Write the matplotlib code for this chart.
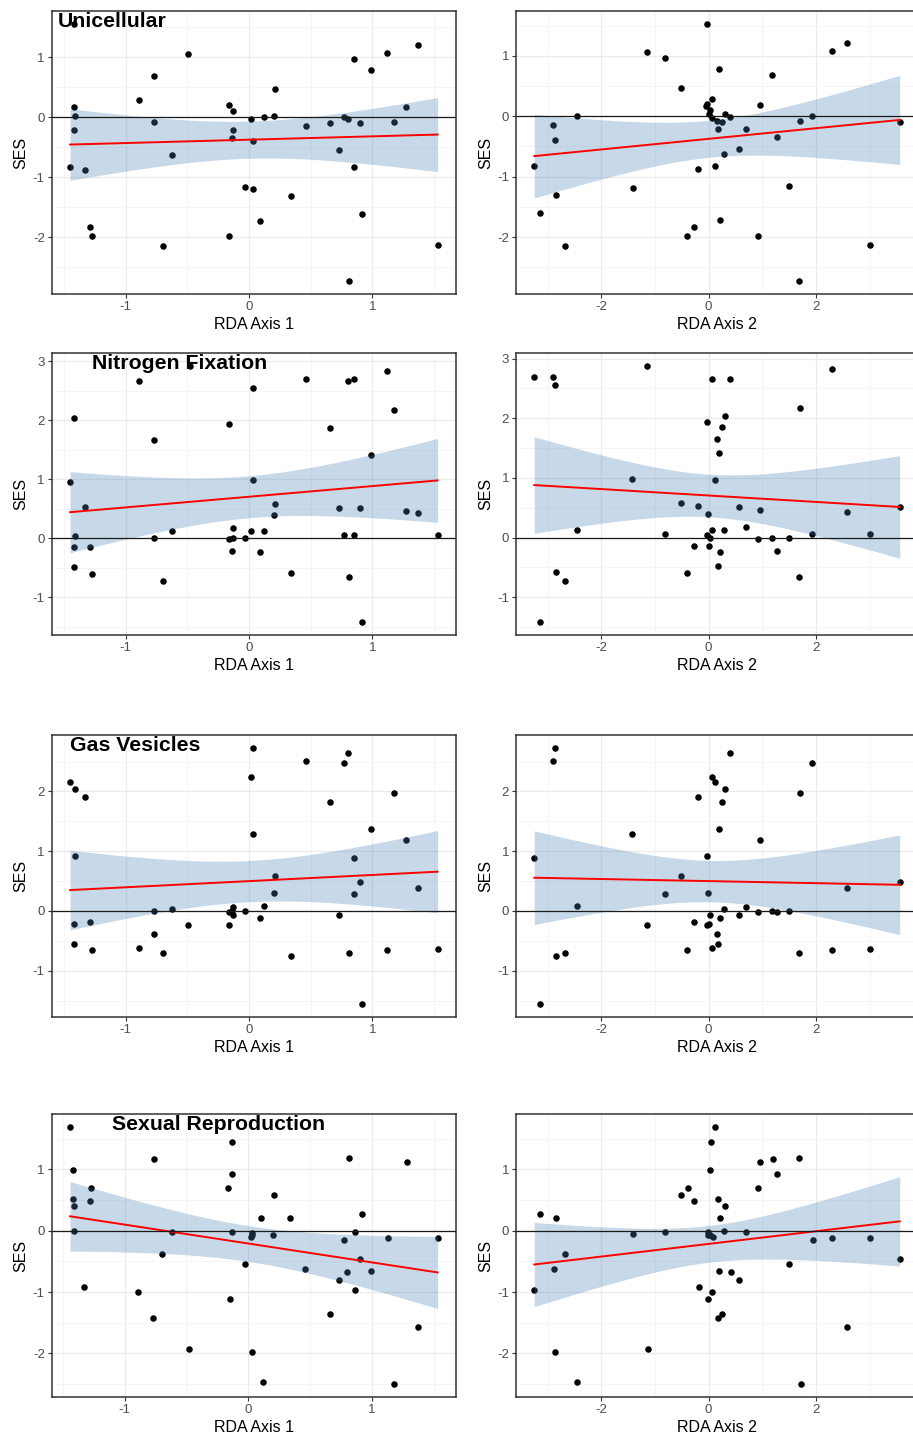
import matplotlib.pyplot as plt
import numpy as np
from matplotlib.ticker import MultipleLocator

plt.rcParams['font.family'] = ['Liberation Sans', 'DejaVu Sans']
plt.rcParams['axes.unicode_minus'] = False

# ---- data: (RDA axis score, SES) per panel ----
uni_ax1_x = [-1.42, -1.42, -1.41, -1.42, -1.45, -1.33, -1.29, -1.27, -0.89, -0.77,
             -0.77, -0.70, -0.62, -0.49, -0.16, -0.13, -0.13, -0.14, -0.16, -0.03,
             0.02, 0.03, 0.03, 0.09, 0.12, 0.20, 0.21, 0.34, 0.46, 0.66,
             0.73, 0.77, 0.80, 0.81, 0.85, 0.85, 0.90, 0.92, 0.99, 1.12,
             1.18, 1.27, 1.37, 1.53]
uni_ax1_y = [1.56, 0.17, 0.03, -0.21, -0.82, -0.87, -1.83, -1.98, 0.29, 0.69,
             -0.08, -2.14, -0.62, 1.06, 0.20, 0.10, -0.21, -0.34, -1.98, -1.16,
             -0.03, -0.40, -1.19, -1.72, 0.00, 0.03, 0.47, -1.31, -0.14, -0.10,
             -0.54, 0.00, -0.02, -2.73, 0.97, -0.82, -0.10, -1.61, 0.79, 1.08,
             -0.08, 0.18, 1.21, -2.13]

uni_ax2_x = [-0.03, -1.15, -0.82, 2.29, 2.57, 0.20, 1.18, -0.51, 0.06, -0.03,
             0.02, 0.00, 0.95, -2.46, -2.90, -2.87, -3.25, -2.84, -3.15, -2.68,
             -1.41, 0.07, 0.15, 0.24, 0.18, 0.30, 0.40, 0.69, 0.28, 0.56,
             1.27, 1.71, 1.93, 3.56, -0.19, 0.12, -0.27, -0.40, 0.22, 0.92,
             1.49, 3.00, 1.69, -0.05]
uni_ax2_y = [1.53, 1.06, 0.97, 1.08, 1.21, 0.79, 0.69, 0.47, 0.29, 0.20,
             0.10, 0.03, 0.18, 0.00, -0.14, -0.40, -0.82, -1.31, -1.61, -2.14,
             -1.19, -0.03, -0.08, -0.10, -0.21, 0.03, -0.01, -0.21, -0.62, -0.54,
             -0.34, -0.08, 0.00, -0.10, -0.87, -0.82, -1.83, -1.98, -1.72, -1.98,
             -1.16, -2.13, -2.73, 0.17]

nit_ax1_x = [-0.48, -0.89, -1.42, -0.77, -1.45, -1.33, -1.41, -1.42, -1.29, -1.42,
             -1.27, -0.77, -0.62, -0.70, -0.16, 0.03, 0.03, -0.13, -0.16, -0.13,
             -0.14, -0.03, 0.02, 0.09, 0.12, 0.20, 0.21, 0.34, 0.46, 0.66,
             0.73, 0.77, 0.80, 0.81, 0.85, 0.85, 0.90, 0.92, 0.99, 1.12,
             1.18, 1.27, 1.37, 1.53]
nit_ax1_y = [2.92, 2.67, 2.04, 1.66, 0.96, 0.53, 0.04, -0.14, -0.14, -0.48,
             -0.60, 0.00, 0.12, -0.73, 1.93, 2.55, 0.98, 0.17, -0.02, 0.00,
             -0.22, 0.00, 0.12, -0.24, 0.13, 0.39, 0.58, -0.58, 2.70, 1.86,
             0.51, 0.06, 2.66, -0.66, 2.70, 0.06, 0.51, -1.42, 1.41, 2.83,
             2.18, 0.47, 0.43, 0.06]

nit_ax2_x = [-3.25, -2.91, -2.86, -1.15, 0.06, 0.40, 2.29, 1.71, 0.30, -0.03,
             0.24, 0.16, 0.20, -1.42, 0.12, -0.51, -0.19, -0.01, 0.56, 0.95,
             2.57, 3.56, -2.46, -0.82, -0.03, 0.02, 0.07, 0.28, 0.69, 0.92,
             1.18, 1.49, 1.93, 3.00, -0.27, 0.01, 0.22, 1.27, 0.18, -0.40,
             -2.84, -2.68, 1.69, -3.15]
nit_ax2_y = [2.70, 2.70, 2.55, 2.88, 2.66, 2.66, 2.83, 2.18, 2.04, 1.93,
             1.86, 1.66, 1.41, 0.98, 0.96, 0.58, 0.53, 0.39, 0.51, 0.47,
             0.43, 0.51, 0.13, 0.06, 0.04, 0.00, 0.12, 0.12, 0.17, -0.02,
             0.00, 0.00, 0.06, 0.06, -0.14, -0.14, -0.24, -0.22, -0.48, -0.60,
             -0.58, -0.73, -0.66, -1.42]

gas_ax1_x = [-1.45, -1.41, -1.33, -1.41, -1.42, -1.29, -1.42, -1.27, -0.89, -0.77,
             -0.77, -0.70, -0.62, -0.49, -0.16, -0.16, -0.13, -0.13, -0.14, -0.03,
             0.03, 0.02, 0.03, 0.09, 0.12, 0.20, 0.21, 0.34, 0.46, 0.66,
             0.73, 0.77, 0.80, 0.81, 0.85, 0.85, 0.90, 0.92, 0.99, 1.12,
             1.18, 1.27, 1.37, 1.53]
gas_ax1_y = [2.16, 2.04, 1.91, 0.92, -0.21, -0.18, -0.56, -0.66, -0.62, -0.39,
             0.00, -0.70, 0.03, -0.24, -0.24, -0.02, 0.06, -0.06, 0.00, 0.00,
             2.73, 2.24, 1.29, -0.11, 0.08, 0.30, 0.58, -0.76, 2.51, 1.83,
             -0.06, 2.47, 2.64, -0.70, 0.88, 0.28, 0.48, -1.56, 1.37, -0.66,
             1.97, 1.19, 0.39, -0.63]

gas_ax2_x = [-2.86, -2.91, 0.40, 1.93, 0.07, 0.12, 0.30, -0.19, 0.24, 1.71,
             0.20, -1.42, 0.95, -3.25, -0.03, -0.51, -0.82, -0.01, 2.57, 3.56,
             -2.46, 0.28, 0.03, 0.69, 0.56, 0.92, 1.18, 1.27, 1.49, 0.22,
             -0.27, -0.03, 0.01, -1.15, 0.16, 0.18, 0.06, -0.40, -2.68, -2.84,
             1.69, 2.29, 3.00, -3.15]
gas_ax2_y = [2.73, 2.51, 2.64, 2.47, 2.24, 2.16, 2.04, 1.91, 1.83, 1.97,
             1.37, 1.29, 1.19, 0.88, 0.92, 0.58, 0.28, 0.30, 0.39, 0.48,
             0.08, 0.03, -0.06, 0.06, -0.06, -0.02, 0.00, -0.02, 0.00, -0.11,
             -0.18, -0.24, -0.21, -0.24, -0.39, -0.56, -0.62, -0.66, -0.70, -0.76,
             -0.70, -0.66, -0.63, -1.56]

sex_ax1_x = [-1.44, -1.42, -1.42, -1.41, -1.41, -1.27, -1.28, -1.33, -0.89, -0.76,
             -0.77, -0.70, -0.62, -0.48, -0.13, -0.13, -0.16, -0.13, -0.15, -0.03,
             0.03, 0.03, 0.02, 0.03, 0.10, 0.12, 0.21, 0.20, 0.34, 0.46,
             0.66, 0.73, 0.77, 0.80, 0.81, 0.86, 0.86, 0.90, 0.92, 0.99,
             1.13, 1.18, 1.28, 1.37, 1.53]
sex_ax1_y = [1.69, 0.98, 0.52, 0.40, 0.00, 0.69, 0.48, -0.92, -1.00, 1.16,
             -1.42, -0.38, -0.02, -1.93, 1.44, 0.93, 0.69, -0.02, -1.11, -0.54,
             -0.07, -0.04, -0.11, -1.98, 0.21, -2.46, 0.58, -0.07, 0.21, -0.62,
             -1.36, -0.81, -0.16, -0.67, 1.19, -0.96, -0.03, -0.47, 0.27, -0.65,
             -0.12, -2.50, 1.11, -1.57, -0.12]

sex_ax2_x = [0.12, 0.04, 0.02, 1.69, 1.19, 0.96, 1.27, 0.92, -0.39, -0.51,
             -0.27, 0.18, 0.30, 0.22, -3.14, -2.84, -1.41, -0.82, -0.02, -0.01,
             0.03, 0.08, 0.29, 0.69, 1.94, 2.29, 3.00, 3.56, -2.67, -2.89,
             -3.25, 1.49, 0.20, 0.41, 0.57, -0.18, 0.06, -0.02, 0.17, 0.25,
             -1.14, -2.86, -2.45, 1.72, 2.57]
sex_ax2_y = [1.69, 1.44, 0.98, 1.19, 1.16, 1.11, 0.93, 0.69, 0.69, 0.58,
             0.48, 0.52, 0.40, 0.21, 0.27, 0.21, -0.05, -0.03, -0.03, -0.07,
             -0.07, -0.11, 0.00, -0.02, -0.16, -0.12, -0.12, -0.47, -0.38, -0.62,
             -0.96, -0.54, -0.65, -0.67, -0.81, -0.92, -1.00, -1.11, -1.42, -1.36,
             -1.93, -1.98, -2.46, -2.50, -1.57]

titles = ['Unicellular', 'Nitrogen Fixation', 'Gas Vesicles', 'Sexual Reproduction']
title_x = [0.016, 0.099, 0.045, 0.148]
panels = [
    [(uni_ax1_x, uni_ax1_y), (uni_ax2_x, uni_ax2_y)],
    [(nit_ax1_x, nit_ax1_y), (nit_ax2_x, nit_ax2_y)],
    [(gas_ax1_x, gas_ax1_y), (gas_ax2_x, gas_ax2_y)],
    [(sex_ax1_x, sex_ax1_y), (sex_ax2_x, sex_ax2_y)],
]

# axes frames in pixels (top, bottom) per row, (left, right) per column
W, H = 913, 1443
row_px = [(11, 294), (353, 635), (735, 1017), (1114, 1397)]
col_px = [(51.7, 456), (516, 918)]

fig = plt.figure(figsize=(W / 100, H / 100), dpi=100)
fig.patch.set_facecolor('white')


def lm_band(x, y, xs):
    x = np.asarray(x)
    y = np.asarray(y)
    n = len(x)
    b, a = np.polyfit(x, y, 1)
    resid = y - (a + b * x)
    s = np.sqrt(np.sum(resid ** 2) / (n - 2))
    sxx = np.sum((x - x.mean()) ** 2)
    fit = a + b * xs
    se = s * np.sqrt(1 / n + (xs - x.mean()) ** 2 / sxx)
    return fit, fit - 2.018 * se, fit + 2.018 * se


for r, row in enumerate(panels):
    top, bot = row_px[r]
    for c, (x, y) in enumerate(row):
        left, right = col_px[c]
        ax = fig.add_axes([left / W, 1 - bot / H, (right - left) / W, (bot - top) / H])
        xs = np.linspace(min(x), max(x), 80)
        fit, lo, hi = lm_band(x, y, xs)

        ax.scatter(x, y, s=22, color='black', linewidths=0, zorder=2)
        ax.fill_between(xs, lo, hi, color='steelblue', alpha=0.3, linewidth=0, zorder=3)
        ax.plot(xs, fit, color='red', lw=1.4, zorder=4)
        ax.axhline(0, color='#1a1a1a', lw=0.9, zorder=5)

        # ggplot-like 5% expansion
        xr = max(x) - min(x)
        ax.set_xlim(min(x) - 0.05 * xr, max(x) + 0.05 * xr)
        ymin = min(min(y), lo.min())
        ymax = max(max(y), hi.max())
        yr = ymax - ymin
        ax.set_ylim(ymin - 0.05 * yr, ymax + 0.05 * yr)

        ax.xaxis.set_major_locator(MultipleLocator(1 if c == 0 else 2))
        ax.xaxis.set_minor_locator(MultipleLocator(0.5 if c == 0 else 1))
        ax.yaxis.set_major_locator(MultipleLocator(1))
        ax.yaxis.set_minor_locator(MultipleLocator(0.5))
        ax.grid(True, which='major', color='#EBEBEB', lw=0.9, zorder=0)
        ax.grid(True, which='minor', color='#F4F4F4', lw=0.6, zorder=0)
        ax.set_axisbelow(True)
        ax.tick_params(which='minor', length=0)
        ax.tick_params(which='major', length=3, width=0.8, color='#333333',
                       labelcolor='#4D4D4D', labelsize=9.5, pad=2)
        for sp in ax.spines.values():
            sp.set_color('#333333')
            sp.set_linewidth(1.1)

        ax.set_xlabel(f'RDA Axis {c + 1}', fontsize=11.5, labelpad=3)
        ax.set_ylabel('SES', fontsize=11.5, labelpad=3)

        if c == 0:
            ax.text(title_x[r], 0.963, titles[r], transform=ax.transAxes,
                    fontsize=15.3, fontweight='bold', ha='left', va='center', zorder=6)

fig.savefig('out.png', dpi=100)
